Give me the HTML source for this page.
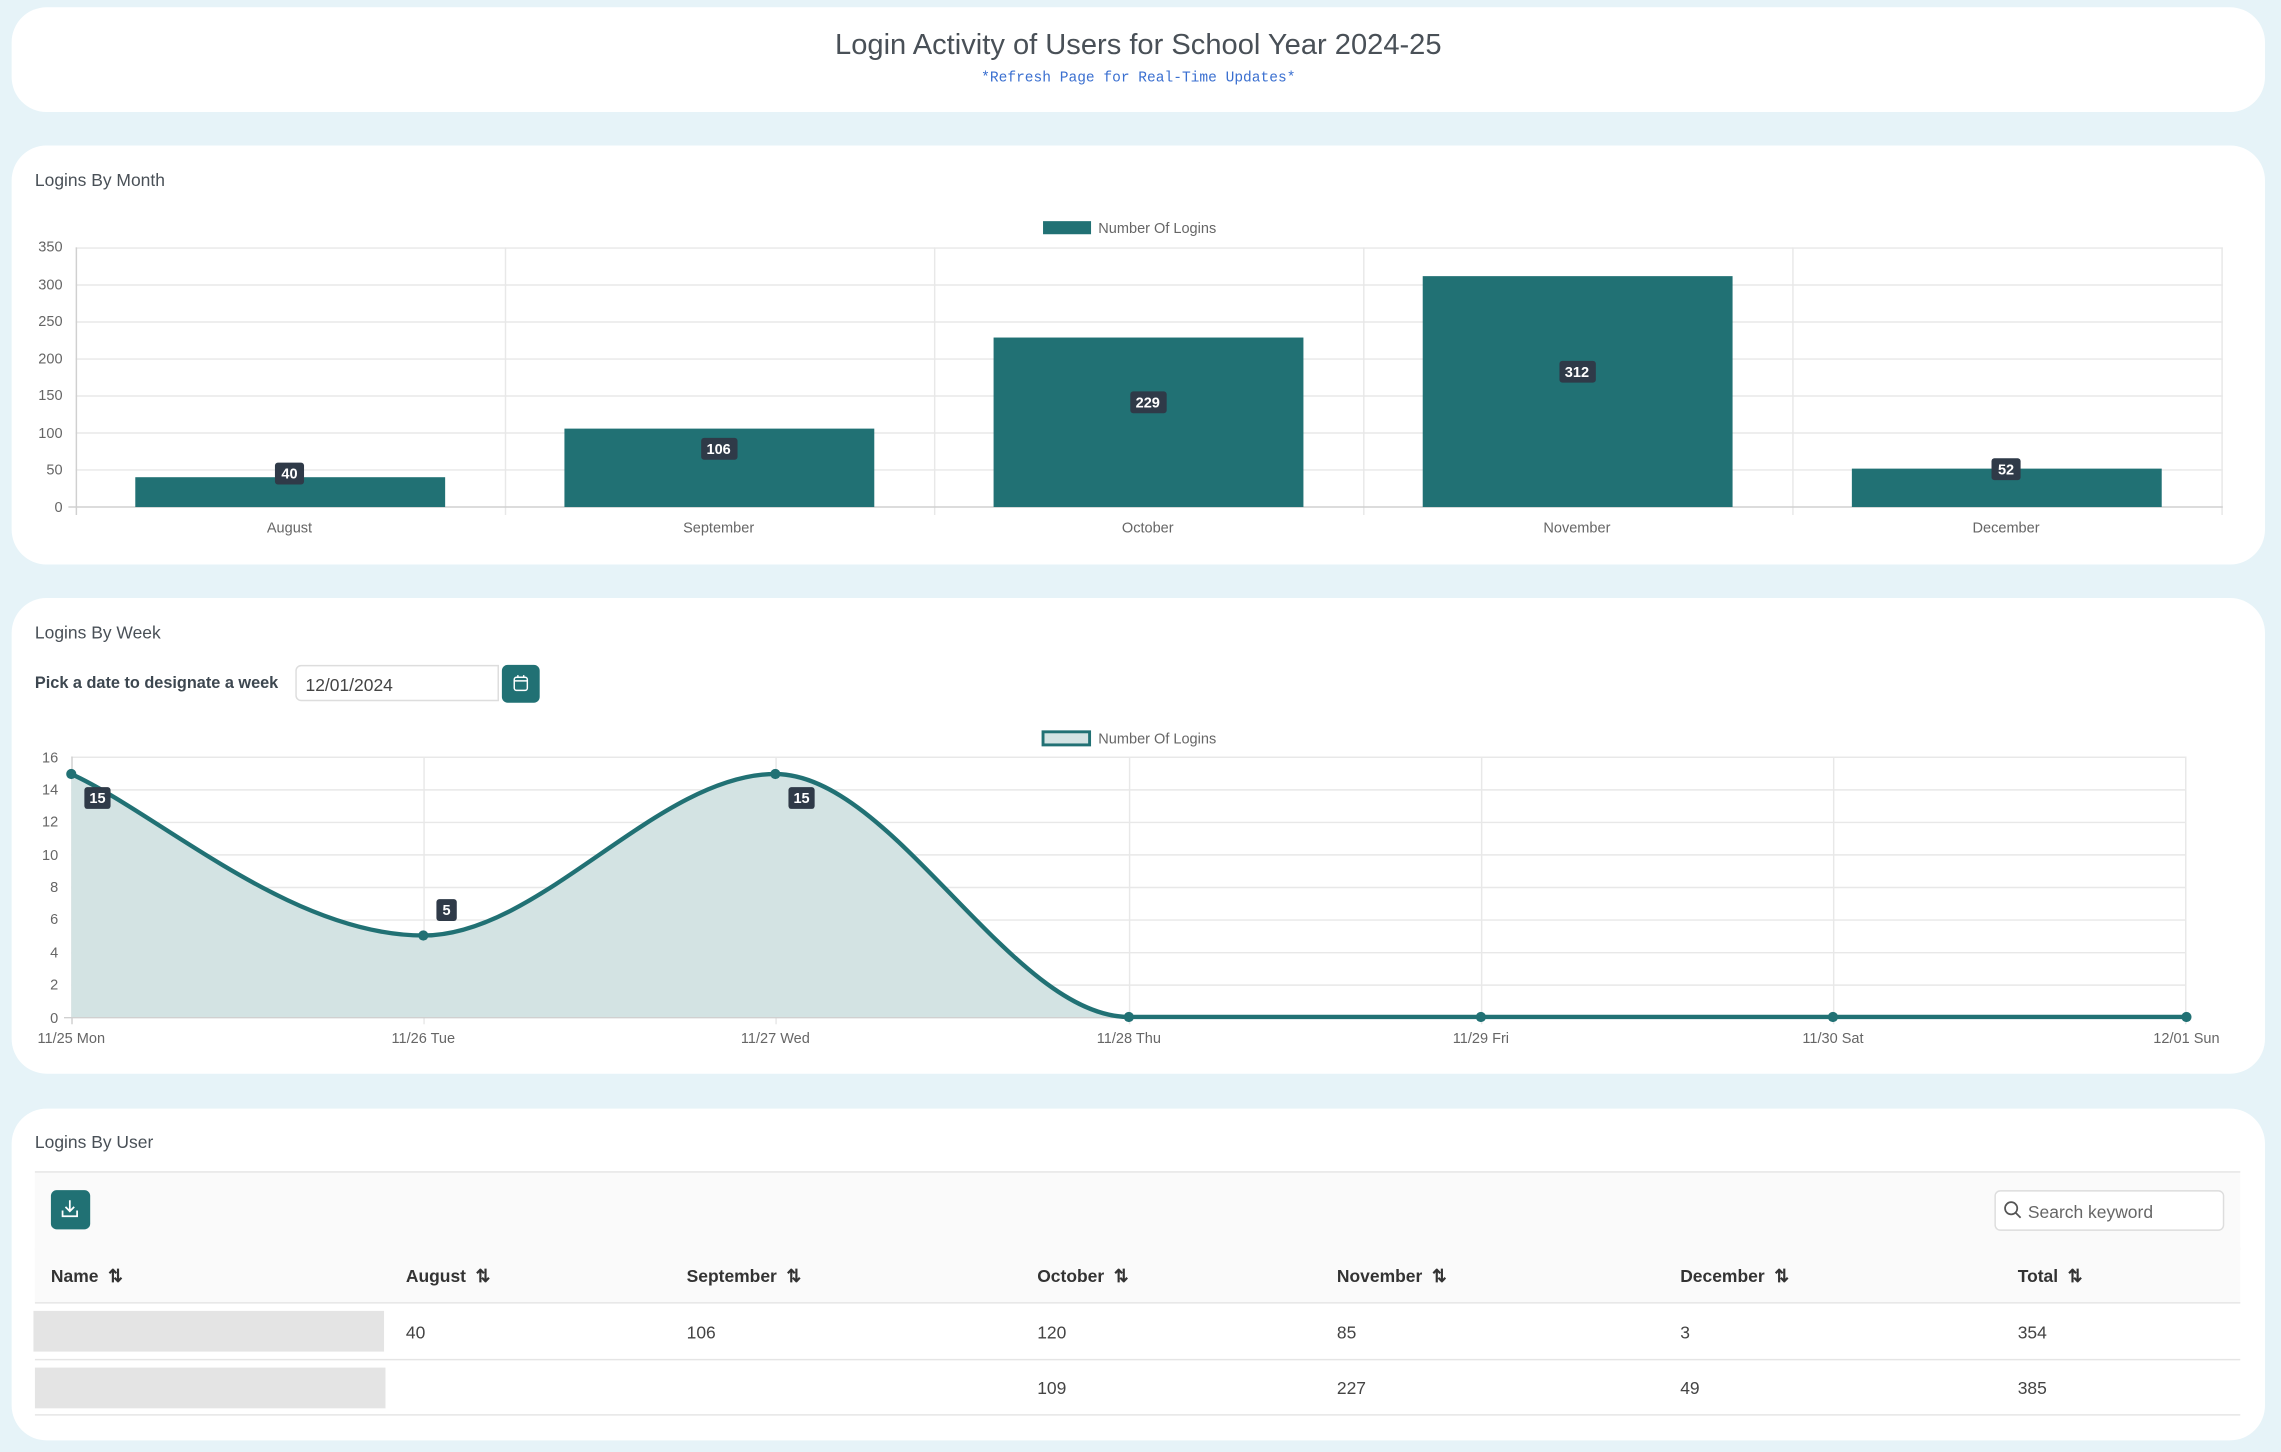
<!DOCTYPE html>
<html><head><meta charset="utf-8"><style>
html,body{margin:0;padding:0;background:#e6f3f8;width:2281px;height:1452px;overflow:hidden}
#w{position:absolute;left:0;top:0;width:1568px;height:998px;transform:scale(1.45472,1.4549);transform-origin:0 0;font-family:"Liberation Sans",sans-serif;color:#495057}
.card{position:absolute;left:8px;width:1549px;background:#fff;border-radius:24px}
.t{position:absolute;font-size:12px;color:#495057}
svg text{font-family:"Liberation Sans",sans-serif}
.th{position:absolute;top:870px;font-size:12px;font-weight:bold;color:#333}
.td{position:absolute;font-size:12px;color:#444}
</style></head><body><div id="w">
<div class="card" style="top:5px;height:72px"></div>
<div style="position:absolute;top:20px;left:0;width:1565px;text-align:center;font-size:20px;color:#495057">Login Activity of Users for School Year 2024-25</div>
<div style="position:absolute;top:49px;left:0;width:1565px;text-align:center;font-family:'Liberation Mono',monospace;font-size:10px;color:#3a6fd0">*Refresh Page for Real-Time Updates*</div>

<div class="card" style="top:100px;height:288px"></div>
<div class="t" style="left:24px;top:117px">Logins By Month</div>
<svg style="position:absolute;left:0;top:0" width="1568" height="400">
<rect x="717" y="152" width="33" height="9" fill="#217174"/>
<text x="755" y="160" font-size="10" fill="#666">Number Of Logins</text>
<g stroke="#e8e8e8" stroke-width="1">
<line x1="52" y1="170.5" x2="1528" y2="170.5"/><line x1="52" y1="195.9" x2="1528" y2="195.9"/><line x1="52" y1="221.3" x2="1528" y2="221.3"/><line x1="52" y1="246.8" x2="1528" y2="246.8"/><line x1="52" y1="272.2" x2="1528" y2="272.2"/><line x1="52" y1="297.6" x2="1528" y2="297.6"/><line x1="52" y1="323" x2="1528" y2="323"/>
<line x1="347.5" y1="170" x2="347.5" y2="354"/><line x1="642.5" y1="170" x2="642.5" y2="354"/><line x1="937.5" y1="170" x2="937.5" y2="354"/><line x1="1232.5" y1="170" x2="1232.5" y2="354"/><line x1="1527.5" y1="170" x2="1527.5" y2="354"/>
</g>
<line x1="52.5" y1="170" x2="52.5" y2="354" stroke="#d0d0d0"/>
<line x1="47" y1="348.5" x2="1528" y2="348.5" stroke="#d0d0d0"/>
<g font-size="10" fill="#666" text-anchor="end">
<text x="43" y="173">350</text><text x="43" y="199">300</text><text x="43" y="224">250</text><text x="43" y="250">200</text><text x="43" y="275">150</text><text x="43" y="301">100</text><text x="43" y="326">50</text><text x="43" y="352">0</text></g>
<g fill="#217174">
<rect x="93" y="328" width="213" height="20.5"/><rect x="388" y="294.6" width="213" height="53.9"/><rect x="683" y="232" width="213" height="116.5"/><rect x="978" y="189.8" width="213" height="158.7"/><rect x="1273" y="322.1" width="213" height="26.4"/></g>
<g font-size="10" fill="#666" text-anchor="middle">
<text x="199" y="366">August</text><text x="494" y="366">September</text><text x="789" y="366">October</text><text x="1084" y="366">November</text><text x="1379" y="366">December</text></g>
<g fill="#2f3a48"><rect x="189" y="318" width="20" height="15" rx="2"/><rect x="482" y="301" width="25" height="15" rx="2"/><rect x="777" y="269" width="25" height="15" rx="2"/><rect x="1072" y="248" width="25" height="15" rx="2"/><rect x="1369" y="315" width="20" height="15" rx="2"/></g>
<g font-size="10" font-weight="bold" fill="#fff" text-anchor="middle">
<text x="199" y="329">40</text><text x="494" y="312">106</text><text x="789" y="280">229</text><text x="1084" y="259">312</text><text x="1379" y="326">52</text></g>
</svg>

<div class="card" style="top:411px;height:327px"></div>
<div class="t" style="left:24px;top:428px">Logins By Week</div>
<div class="t" style="left:24px;top:464px;font-weight:bold;color:#3d4750;font-size:11.2px">Pick a date to designate a week</div>
<div style="position:absolute;left:203px;top:457px;width:140px;height:25px;border:1px solid #ddd;border-radius:4px 0 0 4px;box-sizing:border-box;font-size:12px;padding:6px 6px;color:#444">12/01/2024</div>
<div style="position:absolute;left:345px;top:457px;width:26px;height:26px;background:#217174;border-radius:4px"></div>
<svg style="position:absolute;left:352px;top:463px" width="12" height="14"><rect x="1.5" y="2.5" width="9" height="9" rx="1.5" fill="none" stroke="#fff"/><line x1="1.5" y1="5" x2="10.5" y2="5" stroke="#fff"/><line x1="4" y1="1" x2="4" y2="3" stroke="#fff"/><line x1="8" y1="1" x2="8" y2="3" stroke="#fff"/></svg>
<svg style="position:absolute;left:0;top:0" width="1568" height="740">
<rect x="717" y="503" width="32" height="9" fill="#d3e3e3" stroke="#217174" stroke-width="2"/>
<text x="755" y="511" font-size="10" fill="#666">Number Of Logins</text>
<g stroke="#e8e8e8">
<line x1="49" y1="520.5" x2="1503" y2="520.5"/><line x1="49" y1="542.9" x2="1503" y2="542.9"/><line x1="49" y1="565.3" x2="1503" y2="565.3"/><line x1="49" y1="587.6" x2="1503" y2="587.6"/><line x1="49" y1="610" x2="1503" y2="610"/><line x1="49" y1="632.4" x2="1503" y2="632.4"/><line x1="49" y1="654.8" x2="1503" y2="654.8"/><line x1="49" y1="677.1" x2="1503" y2="677.1"/>
<line x1="291.5" y1="520" x2="291.5" y2="704"/><line x1="533.5" y1="520" x2="533.5" y2="704"/><line x1="776.5" y1="520" x2="776.5" y2="704"/><line x1="1018.5" y1="520" x2="1018.5" y2="704"/><line x1="1260.5" y1="520" x2="1260.5" y2="704"/><line x1="1502.5" y1="520" x2="1502.5" y2="704"/>
</g>
<line x1="49.5" y1="520" x2="49.5" y2="704" stroke="#d0d0d0"/>
<line x1="44" y1="699.5" x2="1503" y2="699.5" stroke="#d0d0d0"/>
<g font-size="10" fill="#666" text-anchor="end">
<text x="40" y="524">16</text><text x="40" y="546">14</text><text x="40" y="568">12</text><text x="40" y="591">10</text><text x="40" y="613">8</text><text x="40" y="635">6</text><text x="40" y="658">4</text><text x="40" y="680">2</text><text x="40" y="703">0</text></g>
<path d="M49,532 C110,560 200,643 291,643 C372,643 452,532 533,532 C614,532 695,699 776,699 L1503,699 L1503,699 L49,699 Z" fill="#d3e3e3"/>
<path d="M49,532 C110,560 200,643 291,643 C372,643 452,532 533,532 C614,532 695,699 776,699 L1503,699" fill="none" stroke="#217174" stroke-width="3"/>
<g fill="#217174"><circle cx="49" cy="532" r="3.5"/><circle cx="291" cy="643" r="3.5"/><circle cx="533" cy="532" r="3.5"/><circle cx="776" cy="699" r="3.5"/><circle cx="1018" cy="699" r="3.5"/><circle cx="1260" cy="699" r="3.5"/><circle cx="1503" cy="699" r="3.5"/></g>
<g fill="#2f3a48"><rect x="58" y="541" width="18" height="15" rx="2"/><rect x="300" y="618" width="14" height="15" rx="2"/><rect x="542" y="541" width="18" height="15" rx="2"/></g>
<g font-size="10" font-weight="bold" fill="#fff" text-anchor="middle"><text x="67" y="552">15</text><text x="307" y="629">5</text><text x="551" y="552">15</text></g>
<g font-size="10" fill="#666" text-anchor="middle">
<text x="49" y="717">11/25 Mon</text><text x="291" y="717">11/26 Tue</text><text x="533" y="717">11/27 Wed</text><text x="776" y="717">11/28 Thu</text><text x="1018" y="717">11/29 Fri</text><text x="1260" y="717">11/30 Sat</text><text x="1503" y="717">12/01 Sun</text></g>
</svg>

<div class="card" style="top:762px;height:228px"></div>
<div class="t" style="left:24px;top:778px">Logins By User</div>
<div style="position:absolute;left:24px;top:805px;width:1516px;height:52px;background:#fafafa;border-top:1px solid #e5e5e5;border-bottom:1px solid #e5e5e5"></div>
<div style="position:absolute;left:35px;top:818px;width:27px;height:27px;background:#217174;border-radius:4px"></div>
<svg style="position:absolute;left:41px;top:824px" width="14" height="14"><path d="M7,1 V8 M4,5.5 L7,8.5 L10,5.5 M2,8 V12 H12 V8" fill="none" stroke="#fff" stroke-width="1.2"/></svg>
<div style="position:absolute;left:1371px;top:818px;width:158px;height:28px;border:1px solid #ddd;border-radius:4px;box-sizing:border-box;background:#fff;font-size:12px;color:#666;padding:7px 0 0 22px">Search keyword</div>
<svg style="position:absolute;left:1377px;top:825px" width="13" height="13"><circle cx="5.5" cy="5.5" r="4.2" fill="none" stroke="#555" stroke-width="1.2"/><line x1="8.5" y1="8.5" x2="12" y2="12" stroke="#555" stroke-width="1.2"/></svg>
<div style="position:absolute;left:24px;top:857px;width:1516px;height:38px;background:#fafafa;border-bottom:1px solid #e5e5e5"></div>
<div class="th" style="left:35px">Name &nbsp;⇅</div>
<div class="th" style="left:279px">August &nbsp;⇅</div>
<div class="th" style="left:472px">September &nbsp;⇅</div>
<div class="th" style="left:713px">October &nbsp;⇅</div>
<div class="th" style="left:919px">November &nbsp;⇅</div>
<div class="th" style="left:1155px">December &nbsp;⇅</div>
<div class="th" style="left:1387px">Total &nbsp;⇅</div>
<div style="position:absolute;left:24px;top:934px;width:1516px;height:1px;background:#e5e5e5"></div>
<div style="position:absolute;left:24px;top:972px;width:1516px;height:1px;background:#e5e5e5"></div>
<div style="position:absolute;left:23px;top:901px;width:241px;height:28px;background:#e4e4e4"></div>
<div style="position:absolute;left:24px;top:940px;width:241px;height:28px;background:#e4e4e4"></div>
<div class="td" style="left:279px;top:909px">40</div><div class="td" style="left:472px;top:909px">106</div><div class="td" style="left:713px;top:909px">120</div><div class="td" style="left:919px;top:909px">85</div><div class="td" style="left:1155px;top:909px">3</div><div class="td" style="left:1387px;top:909px">354</div>
<div class="td" style="left:713px;top:947px">109</div><div class="td" style="left:919px;top:947px">227</div><div class="td" style="left:1155px;top:947px">49</div><div class="td" style="left:1387px;top:947px">385</div>
</div></body></html>
